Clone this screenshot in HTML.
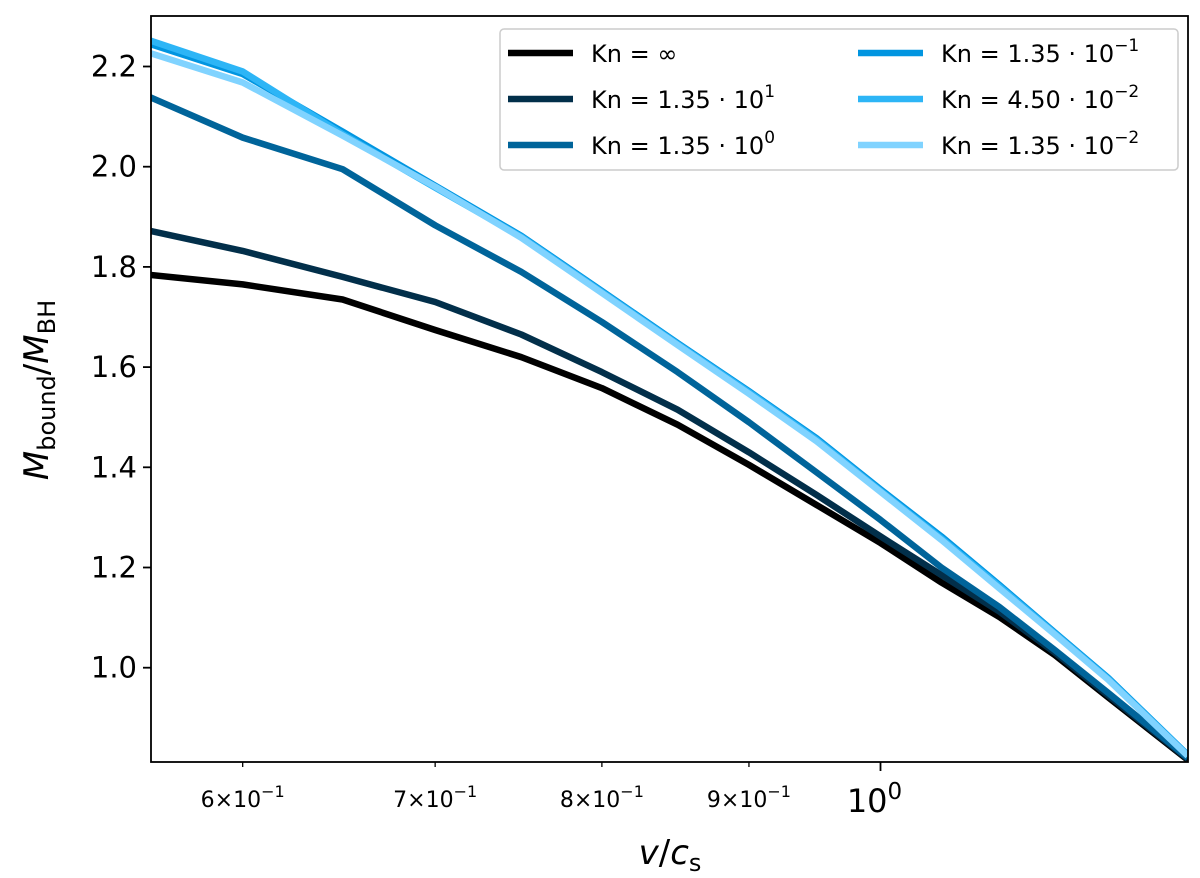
<!DOCTYPE html>
<html><head><meta charset="utf-8"><style>
html,body{margin:0;padding:0;background:#fff;}
svg{display:block;font-family:"DejaVu Sans","Liberation Sans",sans-serif;}
</style></head><body>
<svg id="chart" width="1200" height="878" viewBox="0 0 1200 878" xmlns="http://www.w3.org/2000/svg">
<g id="series"></g>
<rect x="151" y="16" width="1037" height="746" fill="none" stroke="#000" stroke-width="1.8"/>
<g id="axes"></g>
<g>
<rect x="500" y="29" width="678" height="141" rx="4" fill="#fff" fill-opacity="0.85" stroke="#ccc" stroke-width="1.5"/>
<g id="legend-entries"></g>
</g>
<text x="670" y="864" font-size="34" text-anchor="middle"><tspan font-style="italic">v</tspan>/<tspan font-style="italic">c</tspan><tspan font-size="24" dy="7">s</tspan></text>
<text transform="translate(48,390) rotate(-90)" font-size="34" text-anchor="middle"><tspan font-style="italic">M</tspan><tspan font-size="24" dy="7">bound</tspan><tspan dy="-7">/</tspan><tspan font-style="italic">M</tspan><tspan font-size="24" dy="7">BH</tspan></text>
</svg>
<script>
const vValues = [0.557,0.6,0.65,0.7,0.75,0.8,0.85,0.9,0.95,1.0,1.05,1.1,1.15,1.2,1.279];
const knInf   = [1.784,1.765,1.735,1.674,1.62,1.558,1.485,1.405,1.325,1.249,1.17,1.101,1.025,0.941,0.816];
const kn135e1 = [1.872,1.832,1.78,1.73,1.665,1.59,1.515,1.43,1.345,1.262,1.185,1.112,1.03,0.945,0.818];
const kn135e0 = [2.139,2.058,1.995,1.883,1.79,1.69,1.59,1.49,1.39,1.295,1.2,1.121,1.035,0.95,0.82];
const kn135em1 = [2.245,2.185,2.07,1.962,1.862,1.752,1.648,1.552,1.458,1.356,1.262,1.165,1.07,0.98,0.826];
const kn450em2 = [2.252,2.19,2.065,1.958,1.86,1.75,1.646,1.55,1.455,1.353,1.258,1.162,1.068,0.978,0.825];
const kn135em2 = [2.227,2.168,2.062,1.96,1.858,1.748,1.644,1.547,1.452,1.351,1.255,1.158,1.066,0.976,0.824];
const seriesBases = ["","1.35","1.35","1.35","4.50","1.35"];
const seriesExps = ["","1","0","−1","−2","−2"];
const yTicks = [1.0,1.2,1.4,1.6,1.8,2.0,2.2];
const xTicks = [0.6,0.7,0.8,0.9];
const xTickLabels = ["6","7","8","9"];

const NS="http://www.w3.org/2000/svg";
const X0=151,X1=1188,Y0=16,Y1=762;
const xs=v=>880.5+2875*Math.log10(v);
const ys=m=>667.7-(m-1)*501;
function mk(tag,attrs,parent){const e=document.createElementNS(NS,tag);for(const k in attrs)e.setAttribute(k,attrs[k]);parent.appendChild(e);return e;}
const colors=["#000000","#022f4a","#00649a","#0195e0","#2db5f6","#80d3ff"];
const series=[knInf,kn135e1,kn135e0,kn135em1,kn450em2,kn135em2];
const names=["line-kn-inf","line-kn-1-35e1","line-kn-1-35e0","line-kn-1-35em1","line-kn-4-50em2","line-kn-1-35em2"];
const sg=document.getElementById("series");
const clip=mk("clipPath",{id:"pc"},mk("defs",{},sg));
mk("rect",{x:X0,y:Y0,width:X1-X0,height:Y1-Y0},clip);
series.forEach((s,i)=>{
  const d=s.map((m,j)=>(j?"L":"M")+xs(vValues[j]).toFixed(1)+","+ys(m).toFixed(1)).join(" ");
  const p=mk("path",{d:d,fill:"none",stroke:colors[i],"stroke-width":6.5,"stroke-linejoin":"round","clip-path":"url(#pc)"},sg);
  
  
});
const ax=document.getElementById("axes");
yTicks.forEach(t=>{
  const y=ys(t);
  const l=mk("line",{x1:X0-8,x2:X0,y1:y,y2:y,stroke:"#000","stroke-width":1.8},ax);
  
  
  const tx=mk("text",{x:X0-14,y:y+10,"font-size":29,"text-anchor":"end"},ax);
  tx.textContent=t.toFixed(1);
  
  
});
xTicks.forEach((t,i)=>{
  const x=xs(t);
  const l=mk("line",{x1:x,x2:x,y1:Y1,y2:Y1+5,stroke:"#000","stroke-width":1.3},ax);
  
  
  const tx=mk("text",{x:x,y:Y1+45,"font-size":22,"text-anchor":"middle"},ax);
  tx.innerHTML=xTickLabels[i]+"×10<tspan font-size=\"16\" dy=\"-10\">−1</tspan>";
  
  
});
{
  const x=xs(1.0);
  const l=mk("line",{x1:x,x2:x,y1:Y1,y2:Y1+9,stroke:"#000","stroke-width":1.8},ax);
  
  
  const tx=mk("text",{x:x-6,y:Y1+50,"font-size":32,"text-anchor":"middle"},ax);
  tx.innerHTML="10<tspan font-size=\"23\" dy=\"-13\">0</tspan>";
  
  
}
const lg=document.getElementById("legend-entries");
seriesBases.forEach((b,i)=>{
  const col=Math.floor(i/3),row=i%3;
  const lx=508+col*350,ly=53+row*46;
  const g=mk("g",{},lg);
  
  
  mk("line",{x1:lx,x2:lx+65,y1:ly,y2:ly,stroke:colors[i],"stroke-width":6.5},g);
  const t=mk("text",{x:lx+83,y:ly+9,"font-size":24},g);
  if(i===0) t.textContent="Kn = ∞";
  else t.innerHTML="Kn = "+b+" · 10<tspan font-size=\"17\" dy=\"-11\">"+seriesExps[i]+"</tspan>";
});
</script>
</body></html>
